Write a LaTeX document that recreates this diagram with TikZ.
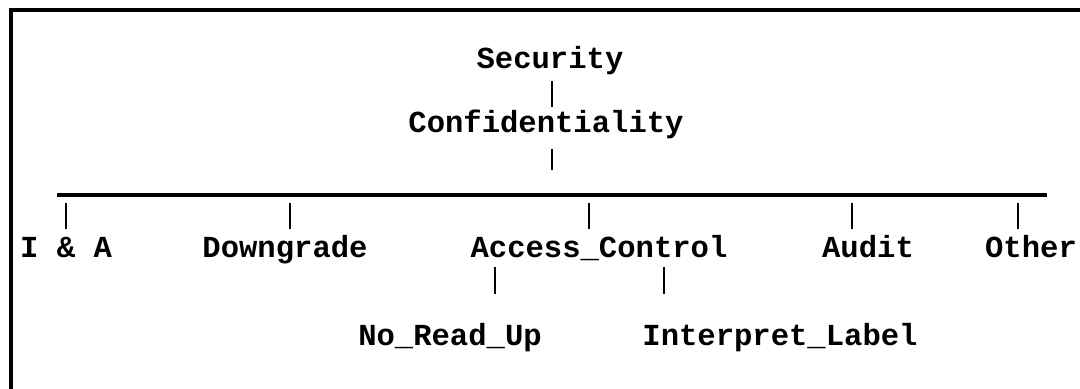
\documentclass[tikz,border=0pt]{standalone}
\usepackage{fontspec}
\setmonofont{Liberation Mono}
\usetikzlibrary{calc}

\newcommand{\lblfont}{\fontsize{17.4}{20}\selectfont\ttfamily\bfseries}

\begin{document}
\begin{tikzpicture}[x=0.02cm, y=-0.02cm, line width=1.6pt,
        main/.style = {font=\lblfont, inner sep=0pt, anchor=base, text height=12.2pt, text depth=3.7pt},
        drop/.style = {shorten <=4.5pt, shorten >=3pt}]
    \useasboundingbox (0,0) rectangle (1080,389);
    \draw[line width=2.8pt] (11,389) -- (11,10) -- (1080,10);
    \node[main] (1) at (550,68) {Security};
    \node[main] (2) at (546,132) {Confidentiality};
    \node[main] (3) at (66,257) {I \& A};
    \node[main] (4) at (285,257) {Downgrade};
    \node[main] (5) at (599,257) {Access\_Control};
    \node[main] (6) at (868,257) {Audit};
    \node[main] (7) at (1031,257) {Other};
    \node[main] (8) at (450,345) {No\_Read\_Up};
    \node[main] (9) at (780,345) {Interpret\_Label};
    \coordinate (t) at (552,170);
    \coordinate (b0) at (57,195);
    \coordinate (b1) at (1047,195);
    \draw (1.south -| t) [shorten <=3pt, shorten >=1.4pt] -- (2.north -| t);
    \draw (2.south -| t) [shorten <=5.4pt] -- (t);
    \draw (b0) [line width=1.8pt] -- (b1);
    \foreach \n/\x in {3/66, 4/290, 5/589, 6/852, 7/1018} {
        \coordinate (d\n) at (\x,195);
        \draw (d\n) [drop] -- (d\n |- \n.north);
    }
    \coordinate (s8) at (495,0);
    \coordinate (s9) at (664,0);
    \draw (5.south -| s8) [shorten <=1pt, shorten >=16pt] -- (8.north -| s8);
    \draw (5.south -| s9) [shorten <=1pt, shorten >=16pt] -- (9.north -| s9);
\end{tikzpicture}
\end{document}
